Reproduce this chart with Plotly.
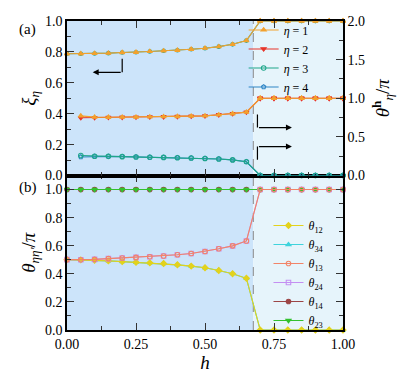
import plotly.graph_objects as go

# field values h (common to both panels)
h = [0.00, 0.05, 0.10, 0.15, 0.20, 0.25, 0.30, 0.35, 0.40, 0.45, 0.50,
     0.55, 0.60, 0.65, 0.70, 0.75, 0.80, 0.85, 0.90, 0.95, 1.00]
h_c = 0.675  # dashed line / background split
h_right = [0.70, 0.75, 0.80, 0.85, 0.90, 0.95, 1.00]

# panel (a): xi_eta for h <= 0.65 (left axis)
xi_upper = [0.788, 0.788, 0.790, 0.792, 0.796, 0.798, 0.803, 0.807, 0.811, 0.817,
            0.824, 0.834, 0.849, 0.873]
xi_middle = [None, 0.374, 0.375, 0.376, 0.377, 0.378, 0.379, 0.380, 0.382, 0.384,
             0.386, 0.393, 0.400, 0.410]
xi_middle_b = [None, 0.386, 0.378, 0.377, 0.378, 0.378, 0.379, 0.381, 0.382, 0.384,
               0.386, 0.393, 0.400, 0.410]
xi_lower = [None, 0.129, 0.125, 0.124, 0.122, 0.120, 0.118, 0.117, 0.115, 0.113,
            0.110, 0.107, 0.101, 0.089]
xi_lower_b = [None, 0.120, 0.124, 0.124, 0.122, 0.120, 0.118, 0.117, 0.115, 0.113,
              0.110, 0.107, 0.101, 0.089]
# panel (a): theta^h_eta / pi for h >= 0.70 (right axis, 0..2)
th_upper = [2.0, 2.0, 2.0, 2.0, 2.0, 2.0, 2.0]
th_middle = [1.0, 1.0, 1.0, 1.0, 1.0, 1.0, 1.0]
th_lower = [0.0, 0.0, 0.0, 0.0, 0.0, 0.0, 0.0]

# panel (b): theta_eta eta' / pi
theta_12 = [0.501, 0.499, 0.497, 0.492, 0.487, 0.482, 0.478, 0.473, 0.464, 0.455, 0.443,
            0.424, 0.401, 0.368, 0.0, 0.0, 0.0, 0.0, 0.0, 0.0, 0.0]
theta_34 = [0.501, 0.499, 0.497, 0.492, 0.487, 0.482, 0.478, 0.473, 0.464, 0.455, 0.443,
            0.424, 0.401, 0.368, 0.0, 0.0, 0.0, 0.0, 0.0, 0.0, 0.0]
theta_13 = [0.501, 0.500, 0.503, 0.508, 0.513, 0.517, 0.522, 0.527, 0.536, 0.545, 0.559,
            0.578, 0.599, 0.634, 1.0, 1.0, 1.0, 1.0, 1.0, 1.0, 1.0]
theta_24 = [0.501, 0.500, 0.503, 0.508, 0.513, 0.517, 0.522, 0.527, 0.536, 0.545, 0.559,
            0.578, 0.599, 0.634, 1.0, 1.0, 1.0, 1.0, 1.0, 1.0, 1.0]
theta_14 = [1.0, 1.0, 1.0, 1.0, 1.0, 1.0, 1.0, 1.0, 1.0, 1.0, 1.0,
            1.0, 1.0, 1.0, 1.0, 1.0, 1.0, 1.0, 1.0, 1.0, 1.0]
theta_23 = [1.0, 1.0, 1.0, 1.0, 1.0, 1.0, 1.0, 1.0, 1.0, 1.0, 1.0,
            1.0, 1.0, 1.0, 1.0, 1.0, 1.0, 1.0, 1.0, 1.0, 1.0]

FONT = "Liberation Serif"
MS = 4.5
LW = 1.1


def band(xi, th):
    # right axis spans 0..2 while the left spans 0..1
    return xi + [t / 2 for t in th]


fig = go.Figure()

# ---- panel (a) ----
eta_traces = [
    # (y, theta part, name, color, symbol, size, legend?)
    (band(xi_upper, th_upper), th_upper, "<i>η</i> = 3", "#1fa68a", "circle-open", 3.5, False),
    (band(xi_upper, th_upper), th_upper, "<i>η</i> = 1", "#f2a12e", "triangle-up", MS, True),
    (band(xi_middle, th_middle), th_middle, "<i>η</i> = 2", "#e8352a", "triangle-down", MS, True),
    (band(xi_middle_b, th_middle), th_middle, "<i>η</i> = 1", "#f2a12e", "triangle-up", MS, False),
    (band(xi_lower_b, th_lower), th_lower, "<i>η</i> = 4", "#2f86c6", "pentagon-open", MS, True),
    (band(xi_lower, th_lower), th_lower, "<i>η</i> = 3", "#1fa68a", "circle-open", MS, True),
]
ranks = {"<i>η</i> = 1": 1, "<i>η</i> = 2": 2, "<i>η</i> = 3": 3, "<i>η</i> = 4": 4}
for y, th, name, color, sym, ms, show in eta_traces:
    fig.add_trace(go.Scatter(
        x=h, y=y, name=name, xaxis="x2", yaxis="y2", mode="lines+markers",
        line=dict(color=color, width=LW),
        marker=dict(symbol=sym, size=ms, color=color, line=dict(width=1.1, color=color)),
        showlegend=show, legendrank=ranks[name],
        cliponaxis=False, connectgaps=False, legend="legend"))
    # same points against the right-hand theta axis
    fig.add_trace(go.Scatter(
        x=h_right, y=th, xaxis="x2", yaxis="y3", mode="markers",
        marker=dict(symbol=sym, size=ms, color=color, line=dict(width=1.1, color=color)),
        showlegend=False, cliponaxis=False, hoverinfo="skip"))

# ---- panel (b) ----
theta_traces = [
    (theta_14, "<i>θ</i><sub>14</sub>", "#9c4646", "circle", 5),
    (theta_23, "<i>θ</i><sub>23</sub>", "#33c12f", "triangle-down", 6),
    (theta_34, "<i>θ</i><sub>34</sub>", "#3fd3dc", "triangle-up", 2),
    (theta_12, "<i>θ</i><sub>12</sub>", "#e3d21c", "diamond", 1),
    (theta_24, "<i>θ</i><sub>24</sub>", "#c48ff2", "square-open", 4),
    (theta_13, "<i>θ</i><sub>13</sub>", "#f28468", "circle-open", 3),
]
for y, name, color, sym, rank in theta_traces:
    fig.add_trace(go.Scatter(
        x=h, y=y, name=name, xaxis="x", yaxis="y", mode="lines+markers",
        line=dict(color=color, width=LW),
        marker=dict(symbol=sym, size=MS, color=color, line=dict(width=1.1, color=color)),
        legendrank=rank, cliponaxis=False, legend="legend2"))

# background regions and the dashed transition line
fig.add_shape(type="rect", xref="x", yref="paper", x0=0, x1=h_c, y0=0, y1=1,
              fillcolor="#cce4fa", line_width=0, layer="below")
fig.add_shape(type="rect", xref="x", yref="paper", x0=h_c, x1=1, y0=0, y1=1,
              fillcolor="#e6f4fb", line_width=0, layer="below")
fig.add_shape(type="line", xref="x", yref="paper", x0=h_c, x1=h_c, y0=0, y1=1,
              line=dict(color="#888888", width=1, dash="dash"), layer="below")

# axis-pointing arrows in panel (a)
arrows = [
    # vertical segment (x, y0, y1), arrow from (x, y_h) to (x_end, y_h)
    (0.20, 0.755, 0.668, 0.668, 0.093),
    (0.69, 0.395, 0.310, 0.310, 0.815),
    (0.69, 0.102, 0.187, 0.187, 0.815),
]
for xv, ya, yb, yh, xe in arrows:
    fig.add_shape(type="line", xref="x2", yref="y2", x0=xv, x1=xv, y0=ya, y1=yb,
                  line=dict(color="black", width=1.2))
    fig.add_annotation(x=xe, y=yh, ax=xv, ay=yh, xref="x2", yref="y2",
                       axref="x2", ayref="y2", text="", showarrow=True,
                       arrowhead=2, arrowsize=1, arrowwidth=1.2, arrowcolor="black")

fig.add_annotation(text="(a)", x=-0.18, y=1.005, xref="paper", yref="paper",
                   showarrow=False, font=dict(size=15, family=FONT, color="black"))
fig.add_annotation(text="(b)", x=-0.18, y=0.46, xref="paper", yref="paper",
                   showarrow=False, font=dict(size=15, family=FONT, color="black"))

tick_font = dict(size=14, family=FONT, color="black")
common = dict(showline=True, linecolor="black", linewidth=1.5, ticks="inside",
              ticklen=7, tickwidth=1.3, tickcolor="#333333", showgrid=False,
              zeroline=False, tickfont=tick_font, automargin=False,
              ticklabeloverflow="allow")
minor = dict(ticks="inside", ticklen=4, tickcolor="#333333")

# the page body adds an 8px offset, so the figure is 8px smaller each way
fig.update_layout(
    width=407, height=367,
    margin=dict(l=59, r=72, t=7, b=45),
    paper_bgcolor="white", plot_bgcolor="white",
    font=dict(family=FONT, color="black"),
    xaxis=dict(domain=[0, 1], anchor="y", range=[0, 1], dtick=0.25, tickformat=".2f",
               mirror="ticks", minor=dict(dtick=0.125, **minor),
               title=dict(text="<i>h</i>", font=dict(size=19, family=FONT), standoff=2),
               **common),
    yaxis=dict(domain=[0, 0.5], anchor="x", range=[0, 1.1],
               tickvals=[0, 0.2, 0.4, 0.6, 0.8, 1.0], tickformat=".1f", mirror="ticks",
               minor=dict(dtick=0.1, **minor),
               title=dict(text="<i>θ</i><sub><i>ηη'</i></sub>/<i>π</i>",
                          font=dict(size=19, family=FONT), standoff=4),
               **common),
    xaxis2=dict(domain=[0, 1], anchor="y2", range=[0, 1], dtick=0.25, matches="x",
                showticklabels=False, mirror="ticks",
                minor=dict(dtick=0.125, **minor), **common),
    yaxis2=dict(domain=[0.5, 1], anchor="x2", range=[0, 1], dtick=0.2, tickformat=".1f",
                minor=dict(dtick=0.1, **minor),
                title=dict(text="<i>ξ</i><sub><i>η</i></sub>",
                           font=dict(size=19, family=FONT), standoff=4),
                **common),
    yaxis3=dict(overlaying="y2", anchor="x2", side="right", range=[0, 2], dtick=0.5,
                tickformat=".1f", minor=dict(dtick=0.25, **minor),
                title=dict(text="<i>θ</i><sup><b>h</b></sup><sub><i>η</i></sub>/<i>π</i>",
                           font=dict(size=19, family=FONT), standoff=12),
                **common),
    legend=dict(x=0.64, y=1.018, xanchor="left", yanchor="top", bgcolor="rgba(0,0,0,0)",
                font=dict(size=12, family=FONT), traceorder="normal", itemwidth=30),
    legend2=dict(x=0.73, y=0.385, xanchor="left", yanchor="top", bgcolor="rgba(0,0,0,0)",
                 font=dict(size=12, family=FONT), traceorder="normal", itemwidth=30),
)

fig.write_html("out.html")
